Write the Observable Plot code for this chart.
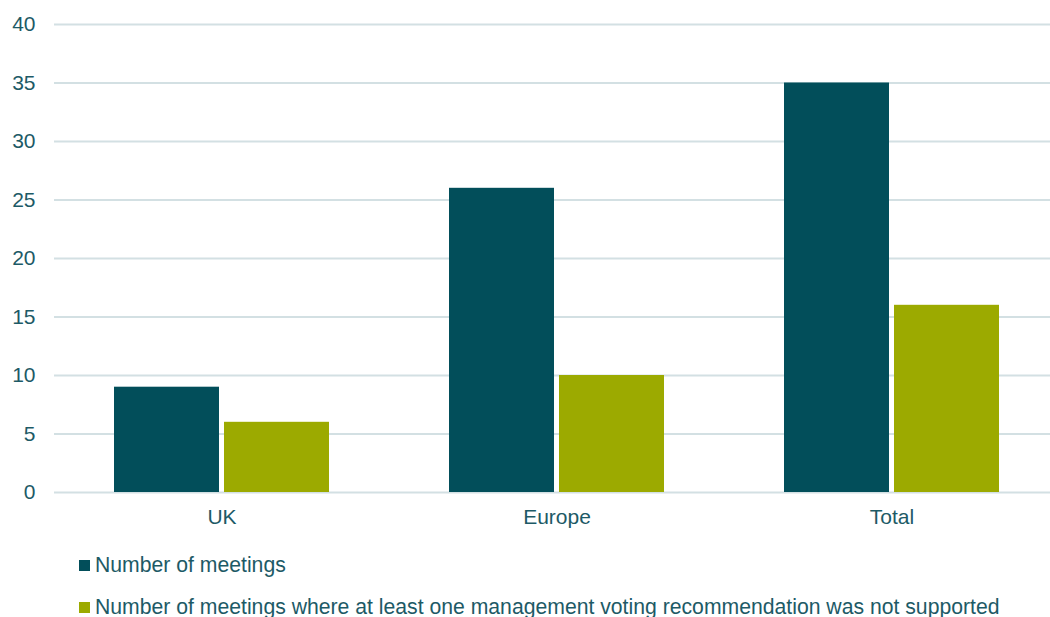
<!DOCTYPE html>
<html>
<head>
<meta charset="utf-8">
<script src="https://cdn.jsdelivr.net/npm/d3@7"></script>
<script src="https://cdn.jsdelivr.net/npm/@observablehq/plot@0.6"></script>
<style>
  html, body { margin: 0; padding: 0; background: #fff; overflow: hidden; width: 1050px; height: 617px; }
  #wrap { position: relative; width: 1050px; height: 617px; overflow: hidden; font-family: "Liberation Sans", Arial, sans-serif; }
  #chart { position: absolute; left: 0; top: 0; width: 1059px; }
  #chart svg { max-width: none !important; height: 530px !important; width: 1059px !important; }
  .leg { position: absolute; left: 79px; display: flex; align-items: center; font-size: 21.2px; color: #1d5a66; white-space: nowrap; }
  .leg .sw { width: 11px; height: 11px; margin-right: 5px; }
</style>
</head>
<body>
<div id="wrap">
  <div id="chart"></div>
</div>
<script>
const categories = ["UK", "Europe", "Total"];
const seriesNames = [
  "Number of meetings",
  "Number of meetings where at least one management voting recommendation was not supported"
];
const meetings = [9, 26, 35];
const notSupported = [6, 10, 16];
const seriesColors = ["#024e5a", "#9caa00"];
const yTicks = [0, 5, 10, 15, 20, 25, 30, 35, 40];

const data = categories.flatMap((c, i) => [
  {cat: c, series: seriesNames[0], value: meetings[i]},
  {cat: c, series: seriesNames[1], value: notSupported[i]}
]);

const textColor = "#1d5a66";

const chart = Plot.plot({
  width: 1059,
  height: 530,
  marginTop: 24,
  marginLeft: 54,
  marginRight: 0,
  marginBottom: 38,
  style: {fontFamily: "'Liberation Sans', Arial, sans-serif", fontSize: "21px", color: textColor, background: "transparent", overflow: "visible"},
  fx: {domain: categories, padding: 0, label: null, axis: "bottom", tickSize: 0, tickPadding: 17},
  x: {domain: seriesNames, axis: null, paddingInner: 0.045, paddingOuter: 0.532},
  y: {domain: [0, 40], ticks: yTicks, label: null, tickSize: 0, tickPadding: 19, tickFormat: d => String(d)},
  color: {domain: seriesNames, range: seriesColors},
  marks: [
    Plot.ruleY(yTicks, {stroke: "#d3e0e3", strokeWidth: 2}),
    Plot.barY(data, {fx: "cat", x: "series", y: "value", fill: "series"})
  ]
});
document.getElementById("chart").appendChild(chart);

const wrap = document.getElementById("wrap");
const legTops = [565, 607];
seriesNames.forEach((s, i) => {
  const d = document.createElement("div");
  d.className = "leg";
  d.style.top = (legTops[i] - 12) + "px";
  d.style.height = "24px";
  const sw = document.createElement("span");
  sw.className = "sw";
  sw.style.background = seriesColors[i];
  const t = document.createElement("span");
  t.textContent = s;
  d.appendChild(sw);
  d.appendChild(t);
  wrap.appendChild(d);
});
</script>
</body>
</html>
